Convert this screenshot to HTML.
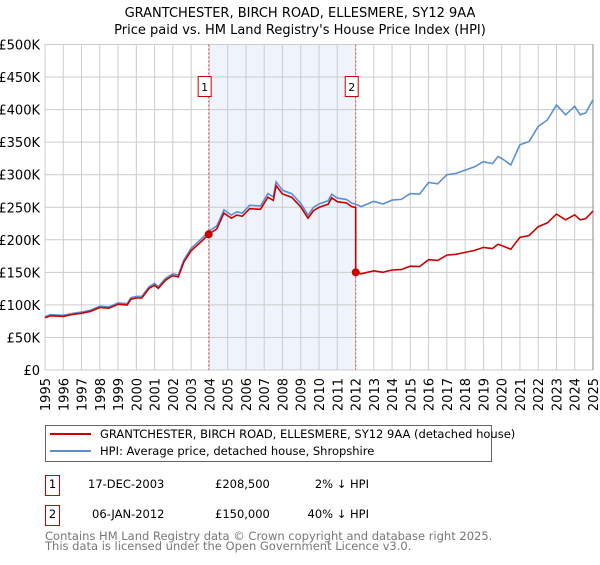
<!DOCTYPE html>
<html><head><meta charset="utf-8"><style>
body{margin:0;background:#fff;font-family:"Liberation Sans","DejaVu Sans",sans-serif;}
svg text{font-family:"DejaVu Sans","Liberation Sans",sans-serif;}
</style></head><body>
<svg id="chart" width="600" height="560" viewBox="0 0 600 560" xmlns="http://www.w3.org/2000/svg">
<text x="300" y="17" text-anchor="middle" font-size="13">GRANTCHESTER, BIRCH ROAD, ELLESMERE, SY12 9AA</text>
<text x="300" y="34" text-anchor="middle" font-size="13">Price paid vs. HM Land Registry's House Price Index (HPI)</text>
<g id="plot"></g>
<g>
<rect x="45.5" y="425.5" width="446" height="36" fill="#fff" stroke="#666"/>
<line x1="50" y1="434" x2="91" y2="434" stroke="#cc0000" stroke-width="2"/>
<text x="100" y="438" font-size="11.5">GRANTCHESTER, BIRCH ROAD, ELLESMERE, SY12 9AA (detached house)</text>
<line x1="50" y1="451" x2="91" y2="451" stroke="#5b8fd4" stroke-width="2"/>
<text x="100" y="455" font-size="11.5">HPI: Average price, detached house, Shropshire</text>
</g>
<g font-size="11.5">
<rect x="45.5" y="475.5" width="14" height="20" fill="#fff" stroke="#cc0000"/>
<text x="52.5" y="488" text-anchor="middle">1</text>
<text x="88" y="488">17-DEC-2003</text>
<text x="215" y="488">£208,500</text>
<text x="369" y="488" text-anchor="end">2% ↓ HPI</text>
<rect x="45.5" y="505.5" width="14" height="20" fill="#fff" stroke="#cc0000"/>
<text x="52.5" y="518" text-anchor="middle">2</text>
<text x="92" y="518">06-JAN-2012</text>
<text x="215" y="518">£150,000</text>
<text x="369" y="518" text-anchor="end">40% ↓ HPI</text>
</g>
<text x="45" y="540" font-size="11.5" fill="#777">Contains HM Land Registry data © Crown copyright and database right 2025.</text>
<text x="45" y="550" font-size="11.5" fill="#777">This data is licensed under the Open Government Licence v3.0.</text>
</svg>
<script>
const hpiYears=[1995,1995.3,1996,1996.5,1997,1997.5,1998,1998.5,1999,1999.5,1999.7,2000,2000.3,2000.7,2001,2001.2,2001.6,2002,2002.3,2002.6,2003,2003.5,2004,2004.4,2004.8,2005.2,2005.5,2005.8,2006.2,2006.8,2007.2,2007.5,2007.65,2008,2008.5,2009,2009.4,2009.7,2010,2010.5,2010.7,2011,2011.5,2011.8,2012,2012.3,2013,2013.5,2014,2014.5,2015,2015.5,2016,2016.5,2017,2017.5,2018,2018.5,2019,2019.5,2019.8,2020,2020.5,2021,2021.5,2022,2022.5,2023,2023.5,2024,2024.3,2024.6,2025];
const hpiValues=[82,85,84,87,89,92,98,97,103,102,111,113,113,128,133,128,141,148,146,169,187,200,214,221,246,238,243,241,253,252,271,266,289,276,271,256,238,250,255,260,270,264,262,256,255,251,259,255,261,262,271,270,288,286,300,302,307,312,320,317,328,325,315,346,351,374,384,407,392,405,392,395,415];
const saleYears=[2003.96,2012.01];
const salePrices=[208.5,150];
const saleLabels=["1","2"];
const yTicks=[0,50,100,150,200,250,300,350,400,450,500];
const yTickLabels=["£0","£50K","£100K","£150K","£200K","£250K","£300K","£350K","£400K","£450K","£500K"];
const xTicks=[1995,1996,1997,1998,1999,2000,2001,2002,2003,2004,2005,2006,2007,2008,2009,2010,2011,2012,2013,2014,2015,2016,2017,2018,2019,2020,2021,2022,2023,2024,2025];

const NS="http://www.w3.org/2000/svg";
const X0=45,X1=593,Y0=370,Y1=44.5;
function xs(t){return X0+(t-1995)/30*(X1-X0);}
function ys(v){return Y0-v/500*(Y0-Y1);}
function mk(tag,at,parent){const e=document.createElementNS(NS,tag);for(const k in at)e.setAttribute(k,at[k]);parent.appendChild(e);return e;}
function hpiAt(t){for(let i=0;i<hpiYears.length-1;i++){if(t<=hpiYears[i+1]){const f=(t-hpiYears[i])/(hpiYears[i+1]-hpiYears[i]);return hpiValues[i]+f*(hpiValues[i+1]-hpiValues[i]);}}return hpiValues[hpiValues.length-1];}
const plot=document.getElementById('plot');
const shade=mk('rect',{x:xs(saleYears[0]),y:Y1,width:xs(saleYears[1])-xs(saleYears[0]),height:Y0-Y1,fill:'#eef3fc'},plot);


yTicks.forEach((v,i)=>{
 const g=mk('line',{x1:X0,x2:X1,y1:ys(v),y2:ys(v),stroke:'#cccccc'},plot);
 
 
 const t=mk('text',{x:40,y:ys(v)+5,'text-anchor':'end','font-size':'13'},plot);
 t.textContent=yTickLabels[i];
 
 
});
xTicks.forEach(yr=>{
 const g=mk('line',{x1:xs(yr),x2:xs(yr),y1:Y1,y2:Y0,stroke:'#cccccc'},plot);
 
 
 const t=mk('text',{x:0,y:0,'text-anchor':'end','font-size':'13',transform:`translate(${xs(yr)+5},378) rotate(-90)`},plot);
 t.textContent=yr;
 
 
});
const rb=mk('line',{x1:X1,x2:X1,y1:Y1,y2:Y0,stroke:'#888'},plot);


saleYears.forEach((sy,i)=>{
 const l=mk('line',{x1:xs(sy),x2:xs(sy),y1:Y1,y2:Y0,stroke:'#e05050','stroke-dasharray':'2,2'},plot);
 
 
});
let d='';hpiYears.forEach((t,i)=>{d+=(i?'L':'M')+xs(t).toFixed(1)+','+ys(hpiValues[i]).toFixed(1);});
const hp=mk('path',{d:d,fill:'none',stroke:'#5b8fd4','stroke-width':'1.6'},plot);


function ratioAt(t){let k=0;for(let i=0;i<saleYears.length;i++)if(t>=saleYears[i])k=i;return salePrices[k]/hpiAt(saleYears[k]);}
const pts=[];hpiYears.forEach((t,i)=>pts.push([t,hpiValues[i]*ratioAt(t)]));
saleYears.forEach((sy,i)=>{if(i>0)pts.push([sy-0.001,hpiAt(sy)*salePrices[i-1]/hpiAt(saleYears[i-1])]);pts.push([sy,salePrices[i]]);});
pts.sort((a,b)=>a[0]-b[0]);
let d2='';pts.forEach((p,i)=>{d2+=(i?'L':'M')+xs(p[0]).toFixed(1)+','+ys(p[1]).toFixed(1);});
const rp=mk('path',{d:d2,fill:'none',stroke:'#cc0000','stroke-width':'1.6'},plot);


saleYears.forEach((sy,i)=>{
 const c=mk('circle',{cx:xs(sy),cy:ys(salePrices[i]),r:4,fill:'#cc0000'},plot);
 
 
 const b=mk('rect',{x:xs(sy)-10.5,y:76.5,width:13,height:20,fill:'#fff',stroke:'#cc0000'},plot);
 
 
 const t=mk('text',{x:xs(sy)-4,y:91,'text-anchor':'middle','font-size':'11'},plot);
 t.textContent=saleLabels[i];
 
 
});
</script>
</body></html>
